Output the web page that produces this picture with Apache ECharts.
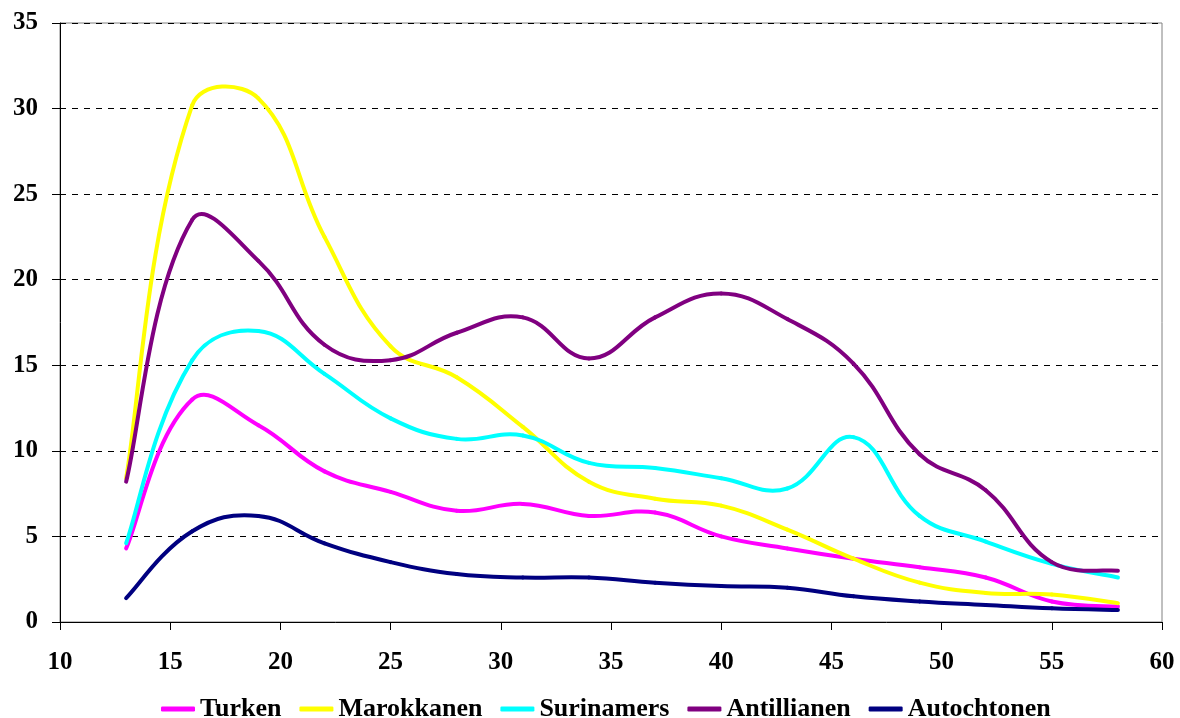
<!DOCTYPE html>
<html>
<head>
<meta charset="utf-8">
<script src="https://cdn.jsdelivr.net/npm/echarts@6/dist/echarts.min.js"></script>
<style>
html,body{margin:0;padding:0;background:#fff;}
#c{width:1180px;height:718px;}
</style>
</head>
<body>
<div id="c"></div>
<script>
const ages = [13, 16, 19, 22, 25, 28, 31, 34, 37, 40, 43, 46, 49, 52, 55, 58];
const turken      = [4.3, 13.0, 11.5, 8.8, 7.6, 6.5, 6.9, 6.2, 6.4, 5.0, 4.3, 3.7, 3.2, 2.6, 1.2, 0.9];
const marokkanen  = [8.4, 30.2, 30.6, 22.5, 16.1, 14.3, 11.4, 8.2, 7.2, 6.8, 5.4, 3.7, 2.3, 1.7, 1.6, 1.1];
const surinamers  = [4.6, 15.3, 17.0, 14.5, 11.9, 10.7, 10.9, 9.3, 9.0, 8.4, 7.8, 10.8, 6.2, 4.7, 3.4, 2.6];
const antillianen = [8.2, 23.5, 21.1, 16.2, 15.3, 16.9, 17.8, 15.4, 17.8, 19.2, 17.7, 15.1, 9.8, 7.7, 3.5, 3.0];
const autochtonen = [1.4, 5.3, 6.2, 4.6, 3.5, 2.8, 2.6, 2.6, 2.3, 2.1, 2.0, 1.5, 1.2, 1.0, 0.8, 0.7];

const seriesNames = ['Turken', 'Marokkanen', 'Surinamers', 'Antillianen', 'Autochtonen'];
const seriesData = [turken, marokkanen, surinamers, antillianen, autochtonen];
const colors = ['#FF00FF', '#FFFF00', '#00FFFF', '#800080', '#000080'];
const xTicks = [10, 60, 5];
const yTicks = [0, 35, 5];

const font = 'Liberation Serif, Times New Roman, serif';
const SMOOTH = 0.42;

// Spreadsheet-style smoothing: Bezier segment between point j and j+1,
// control points from neighbours (no clamping, so the curve may overshoot).
function makeRender(vals, color) {
  return function (params, api) {
    const j = params.dataIndex;
    const n = ages.length;
    if (j >= n - 1) return null;
    const P = k => api.coord([ages[Math.max(0, Math.min(n - 1, k))], vals[Math.max(0, Math.min(n - 1, k))]]);
    function cps(k) {
      const p = P(k), prev = P(k - 1), next = P(k + 1);
      const vx = next[0] - prev[0], vy = next[1] - prev[1];
      const l0 = Math.hypot(p[0] - prev[0], p[1] - prev[1]);
      const l1 = Math.hypot(next[0] - p[0], next[1] - p[1]);
      const r = (l0 + l1) > 0 ? l1 / (l0 + l1) : 0.5;
      let s = SMOOTH;
      if (k === 0 || k === n - 1) s = SMOOTH * 0.5;
      return [
        [p[0] - vx * s * (1 - r), p[1] - vy * s * (1 - r)],
        [p[0] + vx * s * r, p[1] + vy * s * r]
      ];
    }
    const a = P(j), b = P(j + 1);
    const c1 = cps(j)[1], c2 = cps(j + 1)[0];
    return {
      type: 'bezierCurve',
      shape: {x1: a[0], y1: a[1], x2: b[0], y2: b[1], cpx1: c1[0], cpy1: c1[1], cpx2: c2[0], cpy2: c2[1]},
      style: {stroke: color, lineWidth: 4, fill: null, lineCap: 'round', lineJoin: 'round'},
      silent: true
    };
  };
}

const chart = echarts.init(document.getElementById('c'));
chart.setOption({
  animation: false,
  backgroundColor: '#fff',
  grid: {left: 60, right: 18, top: 23, bottom: 96, show: true, borderColor: '#808080', borderWidth: 1},
  legend: {
    top: 691, left: 156,
    itemWidth: 34, itemHeight: 5, itemGap: 18,
    icon: 'roundRect',
    textStyle: {fontFamily: font, fontWeight: 'bold', fontSize: 26, color: '#000'},
    data: seriesNames
  },
  xAxis: {
    type: 'value', min: xTicks[0], max: xTicks[1], interval: xTicks[2],
    axisLine: {lineStyle: {color: '#000', width: 1}},
    axisTick: {show: true, length: 8, lineStyle: {color: '#000'}},
    axisLabel: {fontFamily: font, fontWeight: 'bold', fontSize: 25, color: '#000', margin: 28},
    splitLine: {show: false}
  },
  yAxis: {
    type: 'value', min: yTicks[0], max: yTicks[1], interval: yTicks[2],
    axisLine: {show: true, lineStyle: {color: '#000', width: 1}},
    axisTick: {show: true, length: 8, lineStyle: {color: '#000'}},
    axisLabel: {fontFamily: font, fontWeight: 'bold', fontSize: 25, color: '#000', margin: 22},
    splitLine: {show: true, lineStyle: {color: '#000', type: [6, 6], width: 1}}
  },
  series: seriesNames.map((n, i) => ({
    name: n, type: 'custom',
    itemStyle: {color: colors[i]},
    encode: {x: 0, y: 1},
    renderItem: makeRender(seriesData[i], colors[i]),
    data: ages.map((a, j) => [a, seriesData[i][j]])
  }))
});
</script>
</body>
</html>
